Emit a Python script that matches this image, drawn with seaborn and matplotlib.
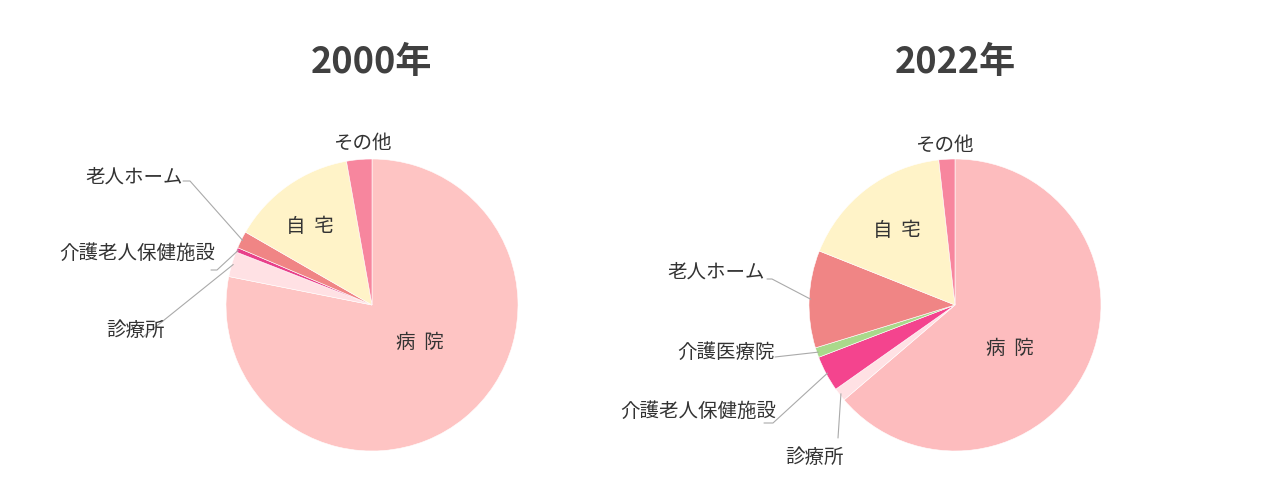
import numpy as np
import seaborn as sns
import matplotlib.pyplot as plt

# place of death share (%), clockwise from 12 o'clock
places_2000 = ['病院', '診療所', '介護老人保健施設', '老人ホーム', '自宅', 'その他']
share_2000 = [78.2, 2.8, 0.5, 1.9, 13.9, 2.8]
colors_2000 = ['#FEC4C3', '#FFE1E4', '#E8408A', '#F08585', '#FFF3C8', '#F7869E']

places_2022 = ['病院', '診療所', '介護老人保健施設', '介護医療院', '老人ホーム', '自宅', 'その他']
share_2022 = [64.5, 1.5, 4.0, 1.1, 10.9, 17.4, 1.8]
colors_2022 = ['#FDBCBE', '#FFE1E4', '#F4448E', '#A9D98B', '#F08585', '#FFF3C8', '#F7869E']

titles = ['2000年', '2022年']

sns.set_theme(style='white')
plt.rcParams['font.family'] = ['Noto Sans CJK JP', 'DejaVu Sans']

W, H = 1280, 503
R = 146
fig = plt.figure(figsize=(W / 100, H / 100), dpi=100)


def edge_point(values, i, r=1.0):
    # point on the rim at the middle of slice i (clockwise from top)
    total = float(sum(values))
    mid = (sum(values[:i]) + values[i] / 2) / total * 360
    a = np.deg2rad(90 - mid)
    return r * np.cos(a), r * np.sin(a)


def draw(cx, cy, values, names, colors, title, inside, outside):
    ax = fig.add_axes([(cx - R) / W, (H - cy - R) / H, 2 * R / W, 2 * R / H])
    ax.pie(values, colors=colors, startangle=90, counterclock=False, radius=1,
           wedgeprops=dict(edgecolor='white', linewidth=0.4))
    ax.set_xlim(-1, 1)
    ax.set_ylim(-1, 1)
    ax.axis('off')

    def px(x, y):
        return (x - cx) / R, (cy - y) / R

    ax.text(0, (cy - 62) / R, title, ha='center', va='center', fontsize=26,
            fontweight='bold', color='#404040')
    for name, (x, y) in inside.items():
        tx, ty = px(x, y)
        ax.text(tx, ty, name[0] + '  ' + name[1], ha='center', va='center',
                fontsize=14, color='#333333')
    for name, (x, y, ha, path) in outside.items():
        tx, ty = px(x, y)
        ax.text(tx, ty, name, ha=ha, va='center', fontsize=14, color='#333333')
        if path is None:
            continue
        ex, ey = edge_point(values, names.index(name), 0.99)
        pts = [px(a, b) for a, b in path] + [(ex, ey)]
        xs, ys = zip(*pts)
        ax.plot(xs, ys, color='#AAAAAA', lw=0.8, clip_on=False)


draw(372, 305, share_2000, places_2000, colors_2000, titles[0],
     inside={'病院': (420, 342), '自宅': (310, 226)},
     outside={
         'その他': (362, 143, 'center', None),
         '老人ホーム': (183, 177, 'right', [(183, 181), (190, 181)]),
         '介護老人保健施設': (215, 253, 'right', [(211, 270), (217, 270)]),
         '診療所': (165, 330, 'right', [(143, 337)]),
     })

draw(955, 305, share_2022, places_2022, colors_2022, titles[1],
     inside={'病院': (1010, 348), '自宅': (897, 231)},
     outside={
         'その他': (944, 145, 'center', None),
         '老人ホーム': (765, 272, 'right', [(767, 279), (772, 279)]),
         '介護医療院': (775, 352, 'right', [(775, 357)]),
         '介護老人保健施設': (776, 411, 'right', [(764, 423), (773, 423)]),
         '診療所': (815, 457, 'center', [(838, 438)]),
     })

fig.savefig('out.png', dpi=100, facecolor='white')
